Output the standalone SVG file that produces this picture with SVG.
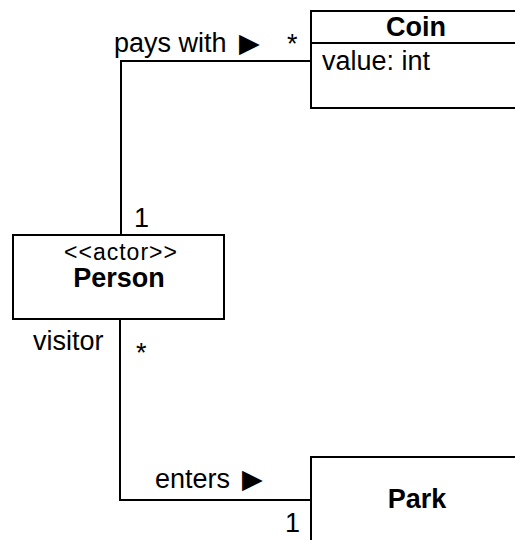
<svg xmlns="http://www.w3.org/2000/svg" width="515" height="540" viewBox="0 0 515 540">
  <style>
    .box { fill: #ffffff; stroke: #000000; stroke-width: 2; }
    .edge { fill: none; stroke: #000000; stroke-width: 2; }
    text { font-family: "Liberation Sans", Arial, Helvetica, sans-serif; fill: #000000; }
    .lbl { font-size: 27px; }
    .name { font-size: 27px; font-weight: bold; text-anchor: middle; }
    .stereo { font-size: 23px; letter-spacing: 1px; text-anchor: middle; }
  </style>
  <rect width="515" height="540" fill="#ffffff"/>

  <g id="connectors">
    <path class="edge" d="M311,61 H121 V235"/>
    <path class="edge" d="M120,319 V500 H311"/>
    <text class="lbl" x="114" y="52">pays with <tspan dx="5">▶</tspan></text>
    <text class="lbl" x="287" y="53">*</text>
    <text class="lbl" x="134" y="227">1</text>
    <text class="lbl" x="33" y="350">visitor</text>
    <text class="lbl" x="136" y="362">*</text>
    <text class="lbl" x="155" y="488">enters <tspan dx="4">▶</tspan></text>
    <text class="lbl" x="285" y="532">1</text>
  </g>

  <g id="coin">
    <rect class="box" x="311" y="11" width="220" height="97"/>
    <line class="edge" x1="311" y1="43" x2="531" y2="43"/>
    <text class="name" x="416" y="36">Coin</text>
    <text class="lbl" x="322" y="70">value: int</text>
  </g>

  <g id="person">
    <rect class="box" x="13" y="235" width="211" height="84"/>
    <text class="stereo" x="121" y="260">&lt;&lt;actor&gt;&gt;</text>
    <text class="name" x="119" y="287">Person</text>
  </g>

  <g id="park">
    <rect class="box" x="311" y="457" width="220" height="100"/>
    <text class="name" x="417" y="508">Park</text>
  </g>
</svg>
